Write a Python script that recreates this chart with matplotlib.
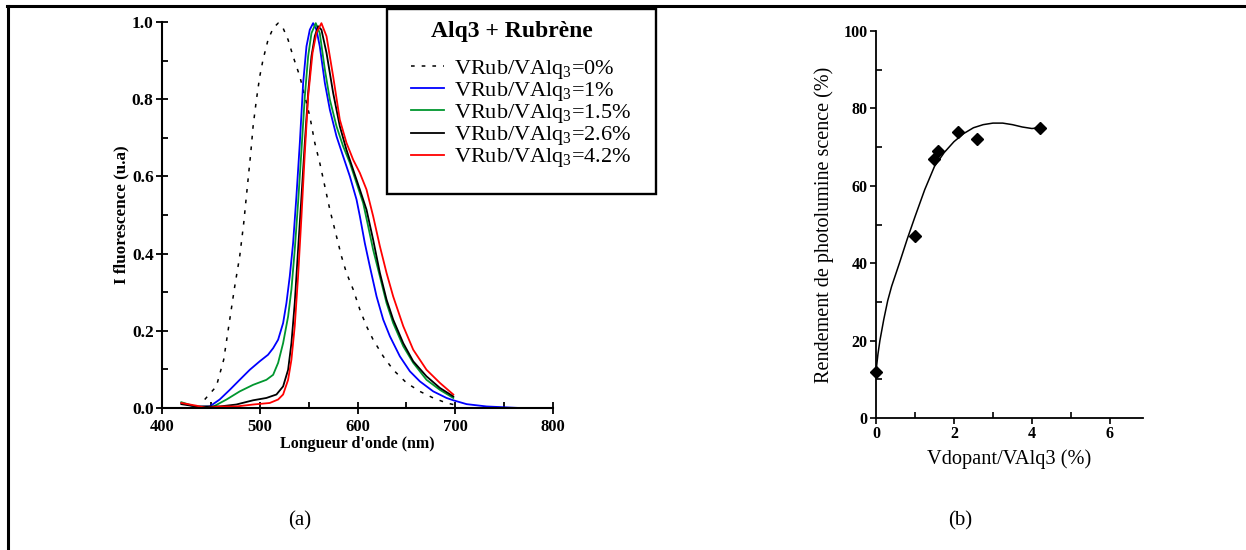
import matplotlib
matplotlib.use("Agg")
import matplotlib.pyplot as plt
from matplotlib.lines import Line2D
from matplotlib.patches import Rectangle
from matplotlib.ticker import MultipleLocator, FixedLocator, FormatStrFormatter

plt.rcParams['font.family'] = ['Liberation Serif', 'DejaVu Serif']
plt.rcParams['mathtext.fontset'] = 'custom'
plt.rcParams['mathtext.rm'] = 'Liberation Serif'
plt.rcParams['mathtext.it'] = 'Liberation Serif:italic'
plt.rcParams['mathtext.bf'] = 'Liberation Serif:bold'

# ---------------- data (a): fluorescence spectra ----------------
wl_0 = [443.7, 455.6, 463.1, 469.3, 474.4, 479.5, 483.6, 486.3, 490.8, 493.2, 496.6, 500.0,
        503.4, 508.5, 513.7, 518.8, 523.9, 529.0, 534.1, 541.0, 546.1, 551.2, 556.3, 561.4,
        566.6, 571.7, 576.8, 583.6, 588.7, 595.6, 602.4, 609.2, 616.0, 626.3, 636.5, 650.2,
        663.8, 677.5, 691.1, 698.0]
i_0 = [0.022, 0.056, 0.125, 0.229, 0.315, 0.393, 0.479, 0.548, 0.661, 0.730, 0.799, 0.859,
       0.903, 0.954, 0.984, 0.997, 0.984, 0.954, 0.911, 0.859, 0.807, 0.756, 0.687, 0.635,
       0.574, 0.514, 0.462, 0.393, 0.350, 0.307, 0.255, 0.212, 0.177, 0.134, 0.099, 0.065,
       0.043, 0.026, 0.013, 0.009]

wl_1 = [419.8, 435.2, 448.8, 459.0, 469.3, 479.5, 489.8, 500.0, 508.5, 513.7, 518.8, 523.9,
        527.3, 530.7, 534.1, 537.5, 541.0, 544.4, 547.8, 551.2, 554.6, 558.0, 561.4, 566.6,
        571.7, 578.5, 585.3, 592.2, 599.0, 602.4, 607.5, 612.6, 619.5, 626.3, 633.1, 643.3,
        653.6, 663.8, 677.5, 691.1, 698.0, 711.6, 732.1, 749.2, 766.0, 800.0]
i_1 = [0.013, 0.003, 0.004, 0.022, 0.047, 0.073, 0.099, 0.121, 0.138, 0.155, 0.177, 0.220,
       0.272, 0.341, 0.427, 0.548, 0.687, 0.842, 0.937, 0.980, 0.997, 0.980, 0.937, 0.842,
       0.773, 0.704, 0.652, 0.600, 0.540, 0.497, 0.427, 0.367, 0.289, 0.229, 0.186, 0.134,
       0.095, 0.069, 0.043, 0.026, 0.020, 0.010, 0.004, 0.002, 0.000, 0.000]

wl_15 = [419.8, 435.2, 452.0, 466.0, 479.5, 493.2, 506.8, 513.7, 518.8, 523.9, 529.0, 532.4,
         535.8, 539.2, 542.7, 546.1, 549.5, 552.9, 557.3, 561.4, 566.6, 571.7, 578.5, 585.3,
         592.2, 599.0, 605.8, 610.9, 616.0, 622.9, 629.7, 636.5, 646.8, 657.0, 670.6, 684.3,
         698.0]
i_15 = [0.015, 0.003, 0.003, 0.022, 0.043, 0.060, 0.073, 0.086, 0.117, 0.168, 0.237, 0.307,
        0.410, 0.531, 0.669, 0.807, 0.911, 0.971, 0.997, 0.971, 0.877, 0.799, 0.730, 0.678,
        0.635, 0.583, 0.531, 0.471, 0.410, 0.341, 0.272, 0.220, 0.160, 0.117, 0.073, 0.047,
        0.026]

wl_26 = [419.8, 435.2, 459.0, 476.0, 493.2, 506.8, 517.1, 523.9, 529.0, 532.4, 535.8, 539.2,
         542.7, 546.1, 549.5, 552.9, 556.3, 559.7, 563.1, 568.3, 575.1, 581.9, 588.7, 595.6,
         602.4, 609.2, 616.0, 622.9, 629.7, 636.5, 646.8, 657.0, 670.6, 684.3, 698.0]
i_26 = [0.010, 0.004, 0.004, 0.009, 0.020, 0.026, 0.035, 0.056, 0.099, 0.168, 0.272, 0.410,
        0.548, 0.687, 0.816, 0.911, 0.963, 0.989, 0.980, 0.920, 0.816, 0.730, 0.669, 0.617,
        0.566, 0.514, 0.436, 0.350, 0.281, 0.229, 0.168, 0.121, 0.082, 0.052, 0.030]

wl_42 = [419.8, 435.2, 445.4, 459.0, 476.0, 493.2, 510.2, 518.8, 523.9, 529.0, 532.4, 535.8,
         539.2, 542.7, 546.1, 549.5, 554.0, 558.0, 563.1, 568.3, 575.1, 581.9, 588.7, 595.6,
         602.4, 609.2, 616.0, 622.9, 629.7, 636.5, 646.8, 657.0, 670.6, 684.3, 698.0]
i_42 = [0.013, 0.006, 0.000, 0.004, 0.004, 0.009, 0.013, 0.022, 0.035, 0.073, 0.125, 0.212,
        0.341, 0.497, 0.661, 0.807, 0.920, 0.972, 0.997, 0.963, 0.859, 0.747, 0.687, 0.643,
        0.609, 0.566, 0.497, 0.419, 0.350, 0.289, 0.212, 0.151, 0.099, 0.065, 0.035]

legend_title = 'Alq3 + Rubrène'
labels_a = ['VRub/VAlq$_\\mathrm{3}$=0%', 'VRub/VAlq$_\\mathrm{3}$=1%',
            'VRub/VAlq$_\\mathrm{3}$=1.5%', 'VRub/VAlq$_\\mathrm{3}$=2.6%',
            'VRub/VAlq$_\\mathrm{3}$=4.2%']

# ---------------- data (b): PL yield ----------------
dopant_pts = [0.0, 1.0, 1.5, 1.6, 2.1, 2.6, 4.2]
yield_pts = [12, 47, 67, 69, 74, 72, 75]
curve_x = [0.0, 0.05, 0.1, 0.2, 0.3, 0.4, 0.6, 0.8, 1.0, 1.25, 1.5, 1.75, 2.0, 2.25, 2.5,
           2.75, 3.0, 3.25, 3.5, 3.75, 4.0, 4.2]
curve_y = [12, 16.5, 20, 25.5, 30.3, 34, 40, 46.2, 52, 59, 65, 68.6, 71.4, 73.5, 75,
           75.8, 76.2, 76.2, 75.8, 75.2, 74.8, 75]

fig = plt.figure(figsize=(12.46, 5.5), dpi=100)

# outer frame (top + left)
fig.add_artist(Line2D([7/1246, 1.0], [1-6/550, 1-6/550], color='black', lw=2.2,
                      transform=fig.transFigure))
fig.add_artist(Line2D([8/1246, 8/1246], [0.0, 1-6/550], color='black', lw=2.2,
                      transform=fig.transFigure))

# ---------------- panel (a) ----------------
axa = fig.add_axes([162/1246, 1-408/550, (553-162)/1246, (408-22)/550])
axa.plot(wl_0, i_0, color='black', lw=1.1, ls=(0, (2.4, 4.6)), label=labels_a[0])
axa.plot(wl_1, i_1, color='#0000ff', lw=1.3, label=labels_a[1])
axa.plot(wl_15, i_15, color='#00962e', lw=1.3, label=labels_a[2])
axa.plot(wl_26, i_26, color='black', lw=1.3, label=labels_a[3])
axa.plot(wl_42, i_42, color='#ff0000', lw=1.3, label=labels_a[4])
axa.set_xlim(400, 800)
axa.set_ylim(0, 1.0)
for s in ['top', 'right']:
    axa.spines[s].set_visible(False)
for s in ['left', 'bottom']:
    axa.spines[s].set_linewidth(1.5)
axa.xaxis.set_major_locator(MultipleLocator(100))
axa.xaxis.set_minor_locator(MultipleLocator(50))
axa.yaxis.set_major_locator(MultipleLocator(0.2))
axa.yaxis.set_minor_locator(MultipleLocator(0.1))
axa.yaxis.set_major_formatter(FormatStrFormatter('%.1f'))
axa.tick_params(which='major', direction='inout', length=8, width=1.3, pad=2)
axa.tick_params(which='minor', direction='in', length=4, width=1.3)
axa.tick_params(axis='y', labelsize=12.5)
axa.tick_params(axis='x', labelsize=12, pad=4)
for lab in axa.get_xticklabels() + axa.get_yticklabels():
    lab.set_fontweight('bold')
axa.set_xlabel("Longueur d'onde (nm)", fontsize=11.5, fontweight='bold', labelpad=1)
axa.set_ylabel("I fluorescence (u.a)", fontsize=12.3, fontweight='bold', labelpad=2)

# legend box (frame + title drawn separately, entries through legend)
fig.add_artist(Rectangle((387/1246, 1-194/550), 269/1246, 185/550, transform=fig.transFigure,
                         facecolor='white', edgecolor='black', lw=1.7, zorder=4))
fig.text(512/1246, 1-32/550, legend_title, fontsize=17, fontweight='bold',
         ha='center', va='center', zorder=6)
leg = fig.legend(loc='upper left', bbox_to_anchor=(411/1246, 1-58/550), borderaxespad=0,
                 fontsize=16, frameon=False, handlelength=1.5, handletextpad=0.45,
                 labelspacing=-0.04, borderpad=0)
leg.set_zorder(6)

# ---------------- panel (b) ----------------
axb = fig.add_axes([876/1246, 1-418/550, (1143-876)/1246, (418-31)/550])
axb.plot(curve_x, curve_y, color='black', lw=1.1)
axb.plot(dopant_pts, yield_pts, ls='none', marker='D', ms=6.5, color='black',
         clip_on=False)
axb.set_xlim(0, 6.85)
axb.set_ylim(0, 100)
for s in ['top', 'right']:
    axb.spines[s].set_visible(False)
for s in ['left', 'bottom']:
    axb.spines[s].set_linewidth(1.3)
axb.xaxis.set_major_locator(MultipleLocator(2))
axb.xaxis.set_minor_locator(FixedLocator([1, 3, 5]))
axb.yaxis.set_major_locator(MultipleLocator(20))
axb.yaxis.set_minor_locator(FixedLocator([10, 30, 50, 70, 90]))
axb.tick_params(which='major', direction='out', length=4, width=1.2, labelsize=11.5, pad=2)
axb.tick_params(which='minor', direction='in', length=4, width=1.2)
for lab in axb.get_xticklabels() + axb.get_yticklabels():
    lab.set_fontweight('bold')
axb.set_xlabel("Vdopant/VAlq3 (%)", fontsize=14.7, labelpad=5)
axb.set_ylabel("Rendement de photolumine scence (%)", fontsize=14.5, labelpad=7)

# captions
fig.text(300/1246, 1-521/550, '(a)', fontsize=15, ha='center', va='center')
fig.text(960/1246, 1-521/550, '(b)', fontsize=15, ha='center', va='center')

fig.savefig('out.png', dpi=100)
